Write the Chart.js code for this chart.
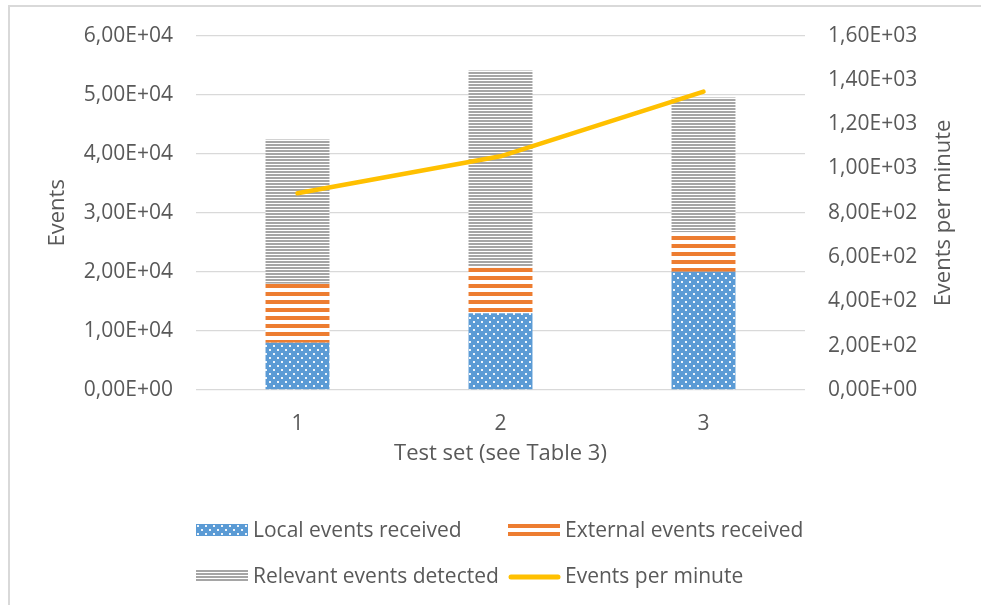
<!DOCTYPE html>
<html>
<head>
<meta charset="utf-8">
<script src="https://cdn.jsdelivr.net/npm/chart.js@4.4.1/dist/chart.umd.min.js"></script>
<style>
  body { margin: 0; background: #fff; overflow: hidden; }
  #frame { position: absolute; left: 8px; top: 5px; width: 1100px; height: 700px;
           border-left: 2px solid #d9d9d9; border-top: 2px solid #d9d9d9; }
  #grafico { position: absolute; left: 0; top: 0; }
</style>
</head>
<body>
<div id="frame"></div>
<canvas id="grafico" width="981" height="605"></canvas>
<script>
// values
const testSets = ['1', '2', '3'];
const localEvents = [8000, 13000, 20000];
const externalEvents = [10000, 7800, 6700];
const relevantEvents = [24400, 33300, 22800];
const eventsPerMinute = [888, 1055, 1347];

const leftTicks = [0, 10000, 20000, 30000, 40000, 50000, 60000];
const rightTicks = [0, 200, 400, 600, 800, 1000, 1200, 1400, 1600];

const FONT = '"Open Sans", sans-serif';
const TEXT = '#595959';
const TICK_SIZE = 21;
const TITLE_SIZE = 22;

const canvas = document.getElementById('grafico');
const ctx = canvas.getContext('2d');

// Excel-like fill patterns
function hacerPatron(w, h, dibujar) {
  const c = document.createElement('canvas');
  c.width = w; c.height = h;
  const g = c.getContext('2d');
  dibujar(g);
  return ctx.createPattern(c, 'repeat');
}

const patronAzul = hacerPatron(8, 8, g => {
  g.fillStyle = '#5b9bd5';
  g.fillRect(0, 0, 8, 8);
  g.fillStyle = 'rgba(255,255,255,0.9)';
  g.fillRect(1, 1, 2, 2);
  g.fillRect(5, 5, 2, 2);
});

const patronNaranja = hacerPatron(8, 8, g => {
  g.fillStyle = '#ffffff';
  g.fillRect(0, 0, 8, 8);
  g.fillStyle = '#ed7d31';
  g.fillRect(0, 4, 8, 4);
});

const patronGris = hacerPatron(3, 3, g => {
  g.fillStyle = '#ffffff';
  g.fillRect(0, 0, 3, 3);
  g.fillStyle = '#a5a5a5';
  g.fillRect(0, 0, 3, 2);
});

function formatoCientifico(v) {
  const [m, e] = Number(v).toExponential(2).split('e');
  const exp = Math.abs(parseInt(e, 10)).toString().padStart(2, '0');
  return m.replace('.', ',') + 'E' + (parseInt(e, 10) < 0 ? '-' : '+') + exp;
}

// legend + right axis title drawn by hand
const extras = {
  id: 'extras',
  afterDraw(chart) {
    const c = chart.ctx;
    c.save();
    c.fillStyle = TEXT;
    c.textBaseline = 'middle';

    // right axis title, reading bottom to top
    c.save();
    c.font = TITLE_SIZE + 'px ' + FONT;
    c.translate(944, 213);
    c.rotate(-Math.PI / 2);
    c.textAlign = 'center';
    c.fillText('Events per minute', 0, 0);
    c.restore();

    const items = [
      { ds: 0, x: 196, y: 531 },
      { ds: 1, x: 508, y: 531 },
      { ds: 2, x: 196, y: 577 },
      { ds: 3, x: 508, y: 577 }
    ];
    c.font = TICK_SIZE + 'px ' + FONT;
    c.textAlign = 'left';
    items.forEach(it => {
      const ds = chart.data.datasets[it.ds];
      if (ds.type === 'line') {
        c.strokeStyle = ds.borderColor;
        c.lineWidth = 5;
        c.lineCap = 'round';
        c.beginPath();
        c.moveTo(it.x + 3, it.y);
        c.lineTo(it.x + 50, it.y);
        c.stroke();
      } else {
        c.fillStyle = ds.backgroundColor;
        c.fillRect(it.x, it.y - 7, 52, 12);
      }
      c.fillStyle = TEXT;
      c.fillText(ds.label, it.x + 57, it.y);
    });
    c.restore();
  }
};

new Chart(ctx, {
  data: {
    labels: testSets,
    datasets: [
      {
        type: 'bar', label: 'Local events received', data: localEvents,
        backgroundColor: patronAzul, yAxisID: 'y', order: 1,
        barPercentage: 0.315, categoryPercentage: 1
      },
      {
        type: 'bar', label: 'External events received', data: externalEvents,
        backgroundColor: patronNaranja, yAxisID: 'y', order: 1,
        barPercentage: 0.315, categoryPercentage: 1
      },
      {
        type: 'bar', label: 'Relevant events detected', data: relevantEvents,
        backgroundColor: patronGris, yAxisID: 'y', order: 1,
        barPercentage: 0.315, categoryPercentage: 1
      },
      {
        type: 'line', label: 'Events per minute', data: eventsPerMinute,
        borderColor: '#ffc000', backgroundColor: '#ffc000', borderWidth: 4.5,
        borderCapStyle: 'round', borderJoinStyle: 'round',
        pointRadius: 0, tension: 0, yAxisID: 'y1', order: 0
      }
    ]
  },
  options: {
    responsive: false,
    animation: false,
    devicePixelRatio: 1,
    layout: { padding: { top: 35, left: 0, right: 0, bottom: 135 } },
    plugins: { legend: { display: false }, tooltip: { enabled: false } },
    scales: {
      x: {
        stacked: true,
        grid: { display: false },
        border: { display: false },
        ticks: { color: TEXT, font: { family: FONT, size: TICK_SIZE }, padding: 13 },
        title: {
          display: true, text: 'Test set (see Table 3)', color: TEXT,
          font: { family: FONT, size: TITLE_SIZE }, padding: { top: 0, bottom: 3 }
        },
        afterFit: s => { s.height = 80; }
      },
      y: {
        stacked: true, position: 'left', min: 0, max: 60000,
        afterBuildTicks: s => { s.ticks = leftTicks.map(v => ({ value: v })); },
        grid: { color: '#d9d9d9', lineWidth: 1.3, drawTicks: false },
        border: { display: false },
        ticks: {
          color: TEXT, font: { family: FONT, size: TICK_SIZE }, padding: 23,
          callback: v => formatoCientifico(v)
        },
        title: {
          display: true, text: 'Events', color: TEXT,
          font: { family: FONT, size: TITLE_SIZE }, padding: { top: 45, bottom: 0 }
        },
        afterFit: s => { s.width = 196; }
      },
      y1: {
        stacked: false, position: 'right', min: 0, max: 1600,
        afterBuildTicks: s => { s.ticks = rightTicks.map(v => ({ value: v })); },
        grid: { display: false, drawTicks: false },
        border: { display: false },
        ticks: {
          color: TEXT, font: { family: FONT, size: TICK_SIZE }, padding: 23,
          callback: v => formatoCientifico(v)
        },
        afterFit: s => { s.width = 176; }
      }
    }
  },
  plugins: [extras]
});
</script>
</body>
</html>
